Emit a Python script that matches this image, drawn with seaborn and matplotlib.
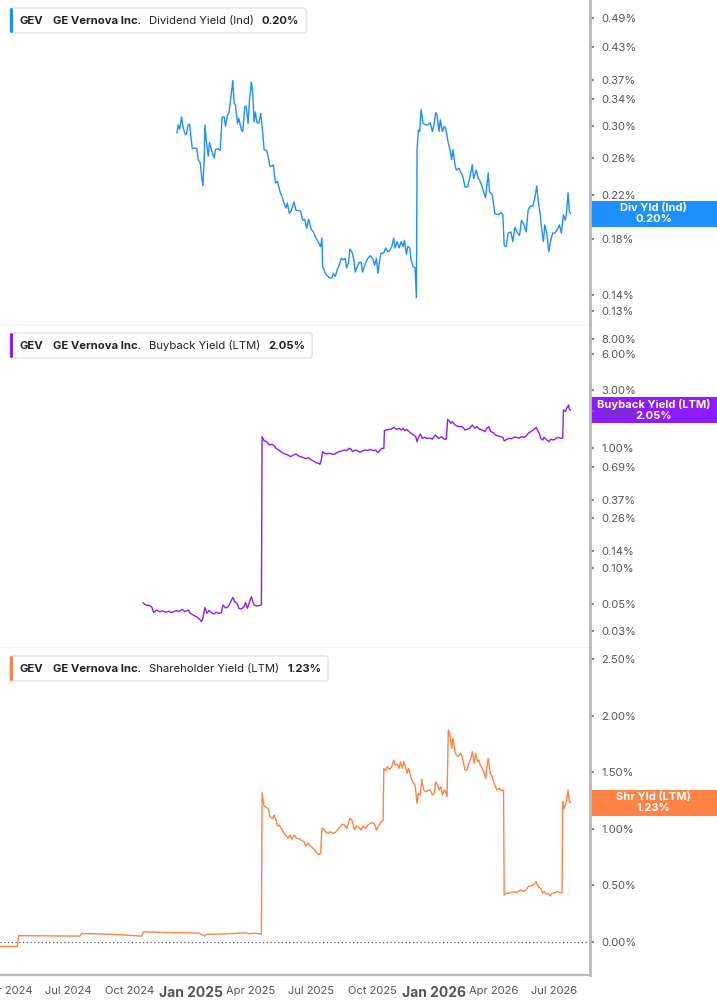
import matplotlib
matplotlib.use("Agg")
import pandas as pd
import numpy as np
import matplotlib.pyplot as plt
from matplotlib.patches import Rectangle, FancyBboxPatch
from matplotlib.transforms import IdentityTransform
from matplotlib.ticker import FixedLocator, NullLocator
import seaborn as sns

# dates are given as days after BASE_DATE, yields in percent
BASE_DATE = "2025-01-01"

DIV_DAYS = [-21, -19, -17, -14, -12, -9, -7, -4, -2, 2,
            6, 9, 11, 14, 16, 18, 20, 21, 23, 26,
            28, 31, 35, 37, 41, 44, 47, 50, 52, 55,
            57, 60, 63, 65, 67, 70, 72, 76, 78, 81,
            83, 86, 88, 91, 93, 95, 97, 99, 102, 105,
            108, 110, 114, 117, 119, 123, 124, 127, 130, 134,
            137, 140, 143, 145, 148, 151, 155, 158, 162, 165,
            168, 171, 174, 177, 181, 184, 188, 192, 195, 197,
            198, 200, 202, 206, 209, 212, 214, 217, 221, 223,
            226, 229, 232, 234, 237, 239, 242, 245, 247, 250,
            253, 256, 258, 262, 266, 270, 274, 276, 279, 281,
            284, 286, 290, 293, 296, 299, 302, 305, 307, 310,
            313, 316, 319, 321, 324, 326, 329, 331, 334, 337,
            339, 340, 342, 344, 346, 349, 353, 356, 360, 363,
            365, 368, 370, 373, 375, 378, 381, 383, 387, 389,
            392, 394, 397, 399, 403, 406, 409, 412, 416, 419,
            423, 425, 429, 432, 434, 438, 440, 443, 447, 449,
            453, 457, 462, 466, 469, 471, 474, 477, 481, 484,
            487, 491, 494, 497, 500, 504, 507, 510, 514, 517,
            520, 522, 525, 527, 530, 532, 535, 538, 541, 544,
            547, 551, 554, 557, 560, 563, 565, 567, 569, 571]
DIV_YIELD = [0.291, 0.302, 0.296, 0.313, 0.300, 0.290, 0.289, 0.302, 0.303, 0.271,
             0.272, 0.271, 0.258, 0.254, 0.240, 0.229, 0.258, 0.302, 0.282, 0.262,
             0.279, 0.269, 0.260, 0.270, 0.271, 0.269, 0.313, 0.313, 0.300, 0.316,
             0.318, 0.341, 0.369, 0.333, 0.331, 0.304, 0.311, 0.295, 0.293, 0.328,
             0.329, 0.304, 0.337, 0.367, 0.348, 0.306, 0.320, 0.306, 0.304, 0.318,
             0.291, 0.270, 0.269, 0.258, 0.250, 0.251, 0.252, 0.232, 0.234, 0.223,
             0.218, 0.212, 0.207, 0.212, 0.202, 0.205, 0.213, 0.205, 0.205, 0.204,
             0.196, 0.197, 0.189, 0.197, 0.188, 0.186, 0.181, 0.177, 0.174, 0.181,
             0.159, 0.157, 0.154, 0.152, 0.151, 0.151, 0.154, 0.152, 0.158, 0.160,
             0.165, 0.164, 0.165, 0.158, 0.162, 0.172, 0.170, 0.164, 0.155, 0.159,
             0.162, 0.162, 0.155, 0.161, 0.165, 0.167, 0.164, 0.160, 0.165, 0.154,
             0.164, 0.169, 0.169, 0.173, 0.170, 0.171, 0.174, 0.181, 0.173, 0.178,
             0.173, 0.178, 0.174, 0.179, 0.168, 0.174, 0.173, 0.164, 0.159, 0.158,
             0.138, 0.270, 0.295, 0.293, 0.324, 0.304, 0.302, 0.302, 0.305, 0.293,
             0.300, 0.319, 0.316, 0.293, 0.309, 0.293, 0.300, 0.297, 0.278, 0.272,
             0.258, 0.270, 0.252, 0.246, 0.248, 0.243, 0.239, 0.228, 0.228, 0.237,
             0.252, 0.237, 0.246, 0.237, 0.235, 0.228, 0.223, 0.217, 0.243, 0.223,
             0.220, 0.202, 0.201, 0.203, 0.201, 0.175, 0.174, 0.185, 0.186, 0.178,
             0.190, 0.185, 0.183, 0.196, 0.193, 0.186, 0.205, 0.209, 0.209, 0.217,
             0.229, 0.215, 0.202, 0.190, 0.178, 0.192, 0.185, 0.170, 0.179, 0.185,
             0.185, 0.188, 0.192, 0.185, 0.201, 0.196, 0.205, 0.222, 0.204, 0.202]

BUYBACK_DAYS = [-72, -68, -63, -59, -56, -52, -47, -43, -38, -33,
                -29, -26, -22, -18, -13, -9, -4, -1, 5, 10,
                13, 16, 18, 21, 24, 27, 31, 35, 38, 42,
                46, 48, 52, 56, 60, 63, 66, 70, 72, 76,
                80, 82, 85, 87, 91, 93, 95, 99, 103, 106,
                107, 110, 114, 118, 122, 125, 128, 132, 135, 139,
                143, 147, 150, 154, 158, 162, 165, 169, 173, 177,
                181, 185, 188, 192, 194, 196, 198, 201, 204, 208,
                212, 216, 219, 223, 227, 231, 234, 238, 241, 243,
                247, 251, 254, 258, 262, 266, 270, 274, 278, 281,
                284, 287, 290, 291, 294, 298, 301, 305, 309, 313,
                316, 319, 321, 324, 328, 331, 335, 338, 340, 342,
                345, 348, 351, 355, 359, 363, 367, 370, 373, 377,
                380, 384, 386, 388, 391, 393, 397, 400, 404, 408,
                412, 415, 419, 423, 427, 430, 434, 438, 442, 445,
                448, 451, 455, 458, 462, 466, 469, 471, 475, 478,
                482, 486, 490, 493, 497, 501, 504, 507, 511, 515,
                519, 521, 524, 526, 529, 531, 534, 538, 541, 545,
                549, 553, 556, 559, 560, 563, 565, 568, 569, 571]
BUYBACK_YIELD = [0.0517, 0.0494, 0.0491, 0.0479, 0.0427, 0.0449, 0.0435, 0.0441, 0.0430, 0.0438,
                 0.0427, 0.0435, 0.0444, 0.0435, 0.0455, 0.0435, 0.0449, 0.0421, 0.0403, 0.0390,
                 0.0376, 0.0359, 0.0383, 0.0470, 0.0421, 0.0444, 0.0427, 0.0416, 0.0430, 0.0421,
                 0.0427, 0.0494, 0.0467, 0.0479, 0.0527, 0.0572, 0.0527, 0.0503, 0.0464, 0.0458,
                 0.0479, 0.0517, 0.0464, 0.0503, 0.0580, 0.0527, 0.0494, 0.0485, 0.0488, 0.0494,
                 1.235, 1.144, 1.122, 1.053, 1.067, 1.040, 0.988, 0.957, 0.927, 0.898,
                 0.881, 0.864, 0.842, 0.870, 0.887, 0.853, 0.842, 0.827, 0.811, 0.827,
                 0.791, 0.771, 0.751, 0.742, 0.728, 0.791, 0.927, 0.898, 0.887, 0.898,
                 0.887, 0.881, 0.909, 0.927, 0.939, 0.957, 0.945, 0.988, 0.969, 0.927,
                 0.957, 0.939, 0.915, 0.939, 0.957, 0.945, 0.969, 0.945, 0.957, 0.909,
                 0.945, 0.988, 0.988, 1.385, 1.403, 1.421, 1.421, 1.476, 1.421, 1.448,
                 1.403, 1.448, 1.385, 1.421, 1.359, 1.316, 1.275, 1.235, 1.122, 1.219,
                 1.300, 1.196, 1.219, 1.196, 1.204, 1.174, 1.275, 1.235, 1.196, 1.235,
                 1.181, 1.174, 1.720, 1.677, 1.593, 1.645, 1.544, 1.514, 1.495, 1.495,
                 1.403, 1.421, 1.448, 1.544, 1.448, 1.495, 1.421, 1.403, 1.359, 1.448,
                 1.495, 1.359, 1.333, 1.275, 1.251, 1.235, 1.219, 1.137, 1.174, 1.196,
                 1.189, 1.219, 1.219, 1.196, 1.235, 1.219, 1.251, 1.316, 1.359, 1.403,
                 1.476, 1.403, 1.300, 1.196, 1.159, 1.219, 1.174, 1.122, 1.174, 1.159,
                 1.196, 1.219, 1.196, 1.204, 2.056, 1.992, 2.123, 2.263, 2.082, 2.050]

SHR_DAYS = [-289, -261, -259, -230, -200, -167, -164, -139, -109, -74,
            -71, -48, -18, 12, 20, 24, 42, 65, 80, 90,
            95, 106, 107, 110, 114, 117, 119, 123, 125, 128,
            130, 133, 137, 140, 144, 146, 149, 152, 155, 159,
            163, 167, 170, 173, 176, 178, 182, 186, 189, 192,
            195, 197, 200, 202, 206, 209, 213, 217, 221, 224,
            227, 231, 234, 237, 239, 242, 246, 249, 252, 256,
            259, 262, 266, 270, 273, 276, 279, 281, 284, 286,
            289, 290, 293, 295, 299, 302, 305, 307, 310, 313,
            315, 318, 320, 322, 325, 327, 330, 332, 335, 337,
            340, 342, 345, 347, 350, 353, 356, 360, 363, 366,
            368, 371, 373, 376, 378, 381, 383, 385, 387, 389,
            392, 394, 397, 399, 402, 405, 408, 412, 415, 418,
            421, 423, 426, 428, 431, 433, 435, 438, 441, 443,
            445, 447, 450, 452, 455, 457, 460, 464, 467, 470,
            471, 474, 477, 481, 485, 489, 492, 496, 500, 504,
            507, 511, 515, 519, 522, 526, 529, 531, 534, 537,
            540, 543, 547, 551, 554, 558, 559, 561, 564, 567,
            569, 571]
SHR_YIELD = [-0.040, -0.040, 0.056, 0.055, 0.054, 0.052, 0.075, 0.072, 0.065, 0.052,
             0.091, 0.085, 0.082, 0.078, 0.053, 0.068, 0.070, 0.075, 0.082, 0.072,
             0.078, 0.070, 1.319, 1.201, 1.189, 1.166, 1.107, 1.092, 1.122, 1.078,
             1.025, 1.033, 0.989, 0.960, 0.930, 0.916, 0.945, 0.907, 0.945, 0.916,
             0.910, 0.895, 0.886, 0.848, 0.877, 0.857, 0.836, 0.813, 0.789, 0.771,
             0.783, 1.004, 0.995, 0.975, 0.960, 0.975, 0.960, 0.966, 0.995, 1.019,
             1.042, 1.033, 1.004, 1.054, 1.092, 1.078, 0.989, 1.025, 1.013, 0.989,
             1.025, 1.004, 1.033, 1.048, 1.054, 1.042, 0.989, 1.019, 1.042, 1.063,
             1.078, 1.534, 1.513, 1.549, 1.525, 1.549, 1.608, 1.563, 1.572, 1.534,
             1.593, 1.534, 1.593, 1.563, 1.490, 1.534, 1.475, 1.431, 1.402, 1.387,
             1.225, 1.313, 1.298, 1.437, 1.343, 1.328, 1.337, 1.343, 1.298, 1.313,
             1.416, 1.387, 1.343, 1.372, 1.298, 1.343, 1.328, 1.284, 1.873, 1.843,
             1.711, 1.799, 1.681, 1.652, 1.637, 1.667, 1.637, 1.519, 1.519, 1.578,
             1.622, 1.681, 1.578, 1.667, 1.593, 1.608, 1.563, 1.534, 1.490, 1.446,
             1.549, 1.622, 1.490, 1.475, 1.416, 1.387, 1.343, 1.357, 1.337, 1.343,
             0.415, 0.430, 0.430, 0.436, 0.445, 0.436, 0.445, 0.459, 0.445, 0.459,
             0.489, 0.495, 0.503, 0.533, 0.489, 0.474, 0.430, 0.445, 0.424, 0.430,
             0.406, 0.430, 0.436, 0.445, 0.436, 0.436, 1.240, 1.181, 1.225, 1.343,
             1.240, 1.231]

DIV_TICKS = [0.13, 0.14, 0.18, 0.22, 0.26, 0.30, 0.34, 0.37, 0.43, 0.49]
BUYBACK_TICKS = [0.03, 0.05, 0.10, 0.14, 0.26, 0.37, 0.69, 1.00, 2.00, 3.00, 6.00, 8.00]
SHR_TICKS = [0.0, 0.5, 1.0, 1.5, 2.0, 2.5]

X_TICKS = ["2024-04-01", "2024-07-01", "2024-10-01", "2025-01-01", "2025-04-01",
           "2025-07-01", "2025-10-01", "2026-01-01", "2026-04-01", "2026-07-01"]
X_LABELS = ["Apr 2024", "Jul 2024", "Oct 2024", "Jan 2025", "Apr 2025",
            "Jul 2025", "Oct 2025", "Jan 2026", "Apr 2026", "Jul 2026"]
X_RANGE = ["2024-03-20", "2026-08-24"]

PANELS = [
    dict(days=DIV_DAYS, values=DIV_YIELD, color="#1e8fff", log=True,
         ylim=(0.1220, 0.5316), ticks=DIV_TICKS, top=0, bottom=325,
         title="Dividend Yield (Ind)", last="0.20%", tag="Div Yld (Ind)"),
    dict(days=BUYBACK_DAYS, values=BUYBACK_YIELD, color="#8c1cff", log=True,
         ylim=(0.02172, 10.44), ticks=BUYBACK_TICKS, top=325, bottom=648,
         title="Buyback Yield (LTM)", last="2.05%", tag="Buyback Yield (LTM)"),
    dict(days=SHR_DAYS, values=SHR_YIELD, color="#ff8345", log=False,
         ylim=(-0.2915, 2.597), ticks=SHR_TICKS, top=648, bottom=975,
         title="Shareholder Yield (LTM)", last="1.23%", tag="Shr Yld (LTM)"),
]

W, H = 717, 1005
PLOT_RIGHT = 590
GRAY = "#b9b9b9"

sns.set_style("white")
plt.rcParams["font.family"] = ["Inter", "DejaVu Sans"]

fig = plt.figure(figsize=(W / 100, H / 100), dpi=100)
pix = IdentityTransform()
axes = []

for i, p in enumerate(PANELS):
    ax = fig.add_axes([0, (H - p["bottom"]) / H, PLOT_RIGHT / W, (p["bottom"] - p["top"]) / H])
    df = pd.DataFrame({
        "date": pd.Timestamp(BASE_DATE) + pd.to_timedelta(p["days"], unit="D"),
        "value": p["values"],
    })
    sns.lineplot(data=df, x="date", y="value", color=p["color"], linewidth=1.0,
                 estimator=None, errorbar=None, legend=False, ax=ax)
    if p["log"]:
        ax.set_yscale("log")
    else:
        ax.axhline(0, color="#555555", linewidth=0.9, linestyle=(0, (1, 2)), zorder=1)
    ax.set_ylim(p["ylim"])
    ax.set_xlim(pd.Timestamp(X_RANGE[0]), pd.Timestamp(X_RANGE[1]))
    ax.yaxis.tick_right()
    ax.yaxis.set_major_locator(FixedLocator(p["ticks"]))
    ax.yaxis.set_minor_locator(NullLocator())
    ax.set_yticklabels([f"{t:.2f}%" for t in p["ticks"]])
    ax.tick_params(axis="y", which="major", direction="out", length=3, width=1.3,
                   color="#777777", labelsize=8, labelcolor="#555555", pad=5)
    ax.set_xlabel("")
    ax.set_ylabel("")
    for side in ["left", "top"]:
        ax.spines[side].set_visible(False)
    ax.spines["right"].set_color(GRAY)
    ax.spines["right"].set_linewidth(2)
    ax.spines["bottom"].set_color("#cfcfcf" if i < 2 else GRAY)
    ax.spines["bottom"].set_linewidth(1 if i < 2 else 1.6)
    ax.set_xticks(pd.to_datetime(X_TICKS))
    if i < 2:
        ax.tick_params(axis="x", which="both", length=0, labelbottom=False)
    else:
        ax.set_xticklabels(X_LABELS)
        ax.tick_params(axis="x", direction="out", length=4, width=1, color="#aaaaaa",
                       labelsize=8, labelcolor="#555555", pad=4)
        for lab in ax.get_xticklabels():
            if lab.get_text().startswith("Jan"):
                lab.set_fontweight("bold")
                lab.set_fontsize(10)
    ax.xaxis.set_minor_locator(NullLocator())
    axes.append(ax)

renderer = fig.canvas.get_renderer()

for ax, p in zip(axes, PANELS):
    # header card in the top-left corner
    y_top = H - (p["top"] + 8)
    y_mid = H - (p["top"] + 20.5)
    x = 20
    parts = [("GEV", "bold", 9), ("GE Vernova Inc.", "bold", 8),
             (p["title"], "normal", 8), (p["last"], "bold", 0)]
    for text, weight, gap in parts:
        t = fig.text(x, y_mid, text, transform=pix, fontsize=8.1, fontweight=weight,
                     color="#222222", ha="left", va="center", zorder=5)
        x += t.get_window_extent(renderer).width + gap
    card = FancyBboxPatch((10, y_top - 25), x + 7 - 10, 25, transform=pix,
                          boxstyle="round,pad=0,rounding_size=3",
                          facecolor="white", edgecolor="#e2e2e2", linewidth=1, zorder=4)
    fig.add_artist(card)
    bar = FancyBboxPatch((10, y_top - 25), 3, 25, transform=pix,
                         boxstyle="round,pad=0,rounding_size=1.5",
                         facecolor=p["color"], edgecolor="none", zorder=4.5)
    fig.add_artist(bar)

    # last value tag on the right axis, drawn under the tick labels like the original
    last_val = p["values"][-1]
    yc = ax.get_yaxis_transform().transform((1, last_val))[1]
    tag = Rectangle((PLOT_RIGHT, yc - 13), W - PLOT_RIGHT, 26, transform=pix,
                    facecolor=p["color"], edgecolor="none", zorder=-1)
    fig.add_artist(tag)
    fig.text((PLOT_RIGHT + W) / 2, yc, f"{p['tag']}\n{p['last']}", transform=pix,
             fontsize=8, fontweight="bold", color="white", ha="center", va="center",
             linespacing=1.05, zorder=5)

fig.savefig("out.png", dpi=100)
plt.close(fig)
